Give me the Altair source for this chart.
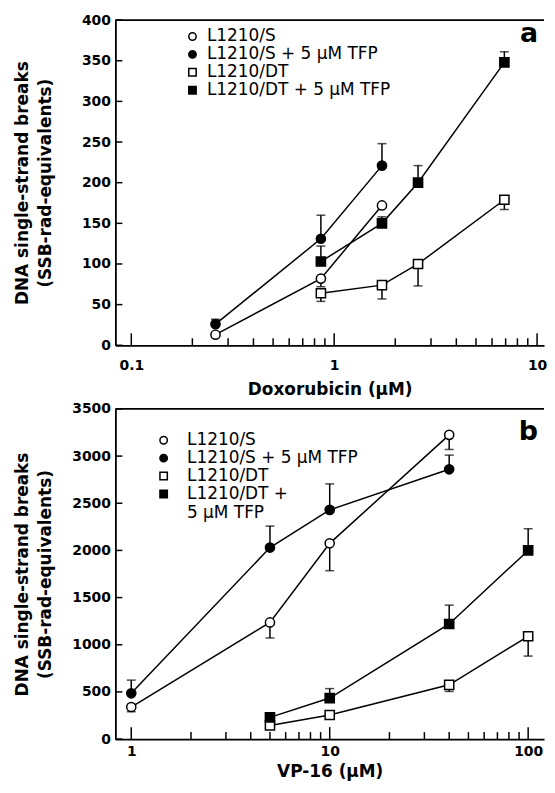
import altair as alt
import pandas as pd

SERIES = ["L1210/S", "L1210/S + 5 μM TFP", "L1210/DT", "L1210/DT + 5 μM TFP"]
SHAPES = ["circle", "circle", "square", "square"]
FILLS = ["white", "black", "white", "black"]

# ---- Panel a: Doxorubicin (μM) ----
a_x_s = [0.26, 0.86, 1.72]
a_y_s = [13, 82, 172]
a_e_s = [None, 72, None]
a_x_st = [0.26, 0.86, 1.72]
a_y_st = [26, 131, 221]
a_e_st = [32, 160, 248]
a_x_dt = [0.86, 1.72, 2.59, 6.9]
a_y_dt = [64, 74, 100, 179]
a_e_dt = [54, 57, 73, 167]
a_x_dtt = [0.86, 1.72, 2.59, 6.9]
a_y_dtt = [103, 150, 200, 348]
a_e_dtt = [122, 158, 221, 361]

# ---- Panel b: VP-16 (μM) ----
b_x_s = [1, 5, 10, 40]
b_y_s = [340, 1237, 2075, 3225]
b_e_s = [290, 1072, 1785, 3070]
b_x_st = [1, 5, 10, 40]
b_y_st = [485, 2030, 2430, 2860]
b_e_st = [625, 2258, 2705, 3010]
b_x_dt = [5, 10, 40, 100]
b_y_dt = [145, 255, 575, 1090]
b_e_dt = [None, None, 505, 880]
b_x_dtt = [5, 10, 40, 100]
b_y_dtt = [230, 435, 1220, 2000]
b_e_dtt = [None, 535, 1420, 2230]

a_xticks_major = [0.1, 1, 10]
a_xticks_minor = [0.2, 0.3, 0.4, 0.5, 0.6, 0.7, 0.8, 0.9, 2, 3, 4, 5, 6, 7, 8, 9]
a_yticks = [0, 50, 100, 150, 200, 250, 300, 350, 400]
b_xticks_major = [1, 10, 100]
b_xticks_minor = [2, 3, 4, 5, 6, 7, 8, 9, 20, 30, 40, 50, 60, 70, 80, 90]
b_yticks = [0, 500, 1000, 1500, 2000, 2500, 3000, 3500]

W = 431
FONT = "DejaVu Sans"


def build_df(xs, ys, es):
    rows = []
    for name, x, y, e in zip(SERIES, xs, ys, es):
        for xi, yi, ei in zip(x, y, e):
            rows.append({"series": name, "x": xi, "y": yi, "err": ei})
    return pd.DataFrame(rows)


def panel(df, xdom, xmaj, xmin, ydom, yvals, H, xtitle, letter, letter_y,
          leg_x, leg_y, leg_offset, lab_pad, tit_pad, label_expr=None):
    xs = alt.Scale(type="log", domain=xdom, nice=False)
    ys = alt.Scale(domain=ydom, nice=False)
    xaxis = alt.Axis(values=xmaj, format="~g", ticks=False, tickSize=0, grid=False,
                     domainColor="black", domainWidth=1.8,
                     labelFont=FONT, labelFontWeight="bold", labelFontSize=14,
                     labelColor="black", labelPadding=lab_pad, labelFlush=False,
                     labelOverlap=False, title=xtitle, titleFont=FONT,
                     titleFontSize=17, titleFontWeight="bold", titleColor="black",
                     titlePadding=tit_pad)
    yaxis = alt.Axis(values=yvals, format="d", ticks=False, tickSize=0, grid=False,
                     domainColor="black", domainWidth=1.8,
                     labelFont=FONT, labelFontWeight="bold", labelFontSize=14,
                     labelColor="black", labelPadding=5, labelOverlap=False,
                     labelFlush=False,
                     title=["DNA single-strand breaks", "(SSB-rad-equivalents)"],
                     titleFont=FONT, titleFontSize=17, titleFontWeight="bold",
                     titleColor="black", titleLineHeight=23, titleAngle=270,
                     titleX=-101, titleY=H / 2, titleAlign="center",
                     titleBaseline="top")
    X = alt.X("x:Q", scale=xs, axis=xaxis)
    Y = alt.Y("y:Q", scale=ys, axis=yaxis)

    base = alt.Chart(df)
    err_df = df.dropna(subset=["err"])
    err_rule = alt.Chart(err_df).mark_rule(color="black", strokeWidth=1.5).encode(
        x=X, y=Y, y2="err:Q")
    err_cap = alt.Chart(err_df).mark_tick(
        color="black", orient="horizontal", size=9, thickness=1.5).encode(
        x=X, y=alt.Y("err:Q", scale=ys, axis=yaxis))
    lines = base.mark_line(color="black", strokeWidth=1.5).encode(
        x=X, y=Y, detail="series:N", order="x:Q")

    leg_kwargs = dict(title=None, orient="none", legendX=leg_x, legendY=leg_y,
                      labelFont=FONT, labelFontSize=17, labelColor="black",
                      labelLimit=0, labelOffset=leg_offset, symbolSize=55,
                      symbolStrokeColor="black", symbolStrokeWidth=1.5,
                      rowPadding=0, padding=0)
    if label_expr:
        leg_kwargs["labelExpr"] = label_expr
    leg = alt.Legend(**leg_kwargs)
    pts = base.mark_point(filled=True, stroke="black", strokeWidth=1.5, size=85,
                          opacity=1).encode(
        x=X, y=Y,
        shape=alt.Shape("series:N", scale=alt.Scale(domain=SERIES, range=SHAPES), legend=leg),
        fill=alt.Fill("series:N", scale=alt.Scale(domain=SERIES, range=FILLS), legend=leg),
        stroke=alt.Stroke("series:N", scale=alt.Scale(domain=SERIES, range=["black"] * 4),
                          legend=leg),
    )

    ytick_df = pd.DataFrame({"v": yvals})
    yticks = alt.Chart(ytick_df).mark_rule(color="black", strokeWidth=1.5).encode(
        y=alt.Y("v:Q", scale=ys, axis=yaxis), x=alt.value(0), x2=alt.value(7))
    xmaj_df = pd.DataFrame({"v": xmaj})
    xmaj_t = alt.Chart(xmaj_df).mark_rule(color="black", strokeWidth=1.5).encode(
        x=alt.X("v:Q", scale=xs, axis=xaxis), y=alt.value(H), y2=alt.value(H - 12))
    xmin_df = pd.DataFrame({"v": xmin})
    xmin_t = alt.Chart(xmin_df).mark_rule(color="black", strokeWidth=1.5).encode(
        x=alt.X("v:Q", scale=xs, axis=xaxis), y=alt.value(H), y2=alt.value(H - 7))

    one = pd.DataFrame({"t": [letter]})
    top = alt.Chart(one).mark_rule(color="black", strokeWidth=1.8).encode(
        x=alt.value(0), x2=alt.value(W), y=alt.value(0))
    lab = alt.Chart(one).mark_text(font=FONT, fontSize=27, fontWeight="bold",
                                   align="right", baseline="alphabetic",
                                   color="black").encode(
        text="t:N", x=alt.value(W - 6), y=alt.value(letter_y))

    return alt.layer(yticks, xmaj_t, xmin_t, top, lines, err_rule, err_cap, pts, lab
                     ).properties(width=W, height=H)


df_a = build_df([a_x_s, a_x_st, a_x_dt, a_x_dtt], [a_y_s, a_y_st, a_y_dt, a_y_dtt],
                [a_e_s, a_e_st, a_e_dt, a_e_dtt])
df_b = build_df([b_x_s, b_x_st, b_x_dt, b_x_dtt], [b_y_s, b_y_st, b_y_dt, b_y_dtt],
                [b_e_s, b_e_st, b_e_dt, b_e_dtt])

pa = panel(df_a, [0.0835, 10.82], a_xticks_major, a_xticks_minor, [0, 400], a_yticks,
           327, "Doxorubicin (μM)", "a", 22, 69, 8, 6, 13, 10)
pb = panel(df_b, [0.832, 120.2], b_xticks_major, b_xticks_minor, [0, 3500], b_yticks,
           332, "VP-16 (μM)", "b", 31, 40, 23, 15, 6, 5,
           label_expr="datum.label == 'L1210/DT + 5 μM TFP' ? ['L1210/DT +', '5 μM TFP'] : datum.label")

chart = alt.vconcat(pa, pb, spacing=4).resolve_scale(
    shape="independent", fill="independent", stroke="independent").properties(
    padding={"left": 6, "top": 3, "right": 0, "bottom": 0}).configure_view(stroke=None)

chart.save("out.html", embed_options={"renderer": "svg", "actions": False})
